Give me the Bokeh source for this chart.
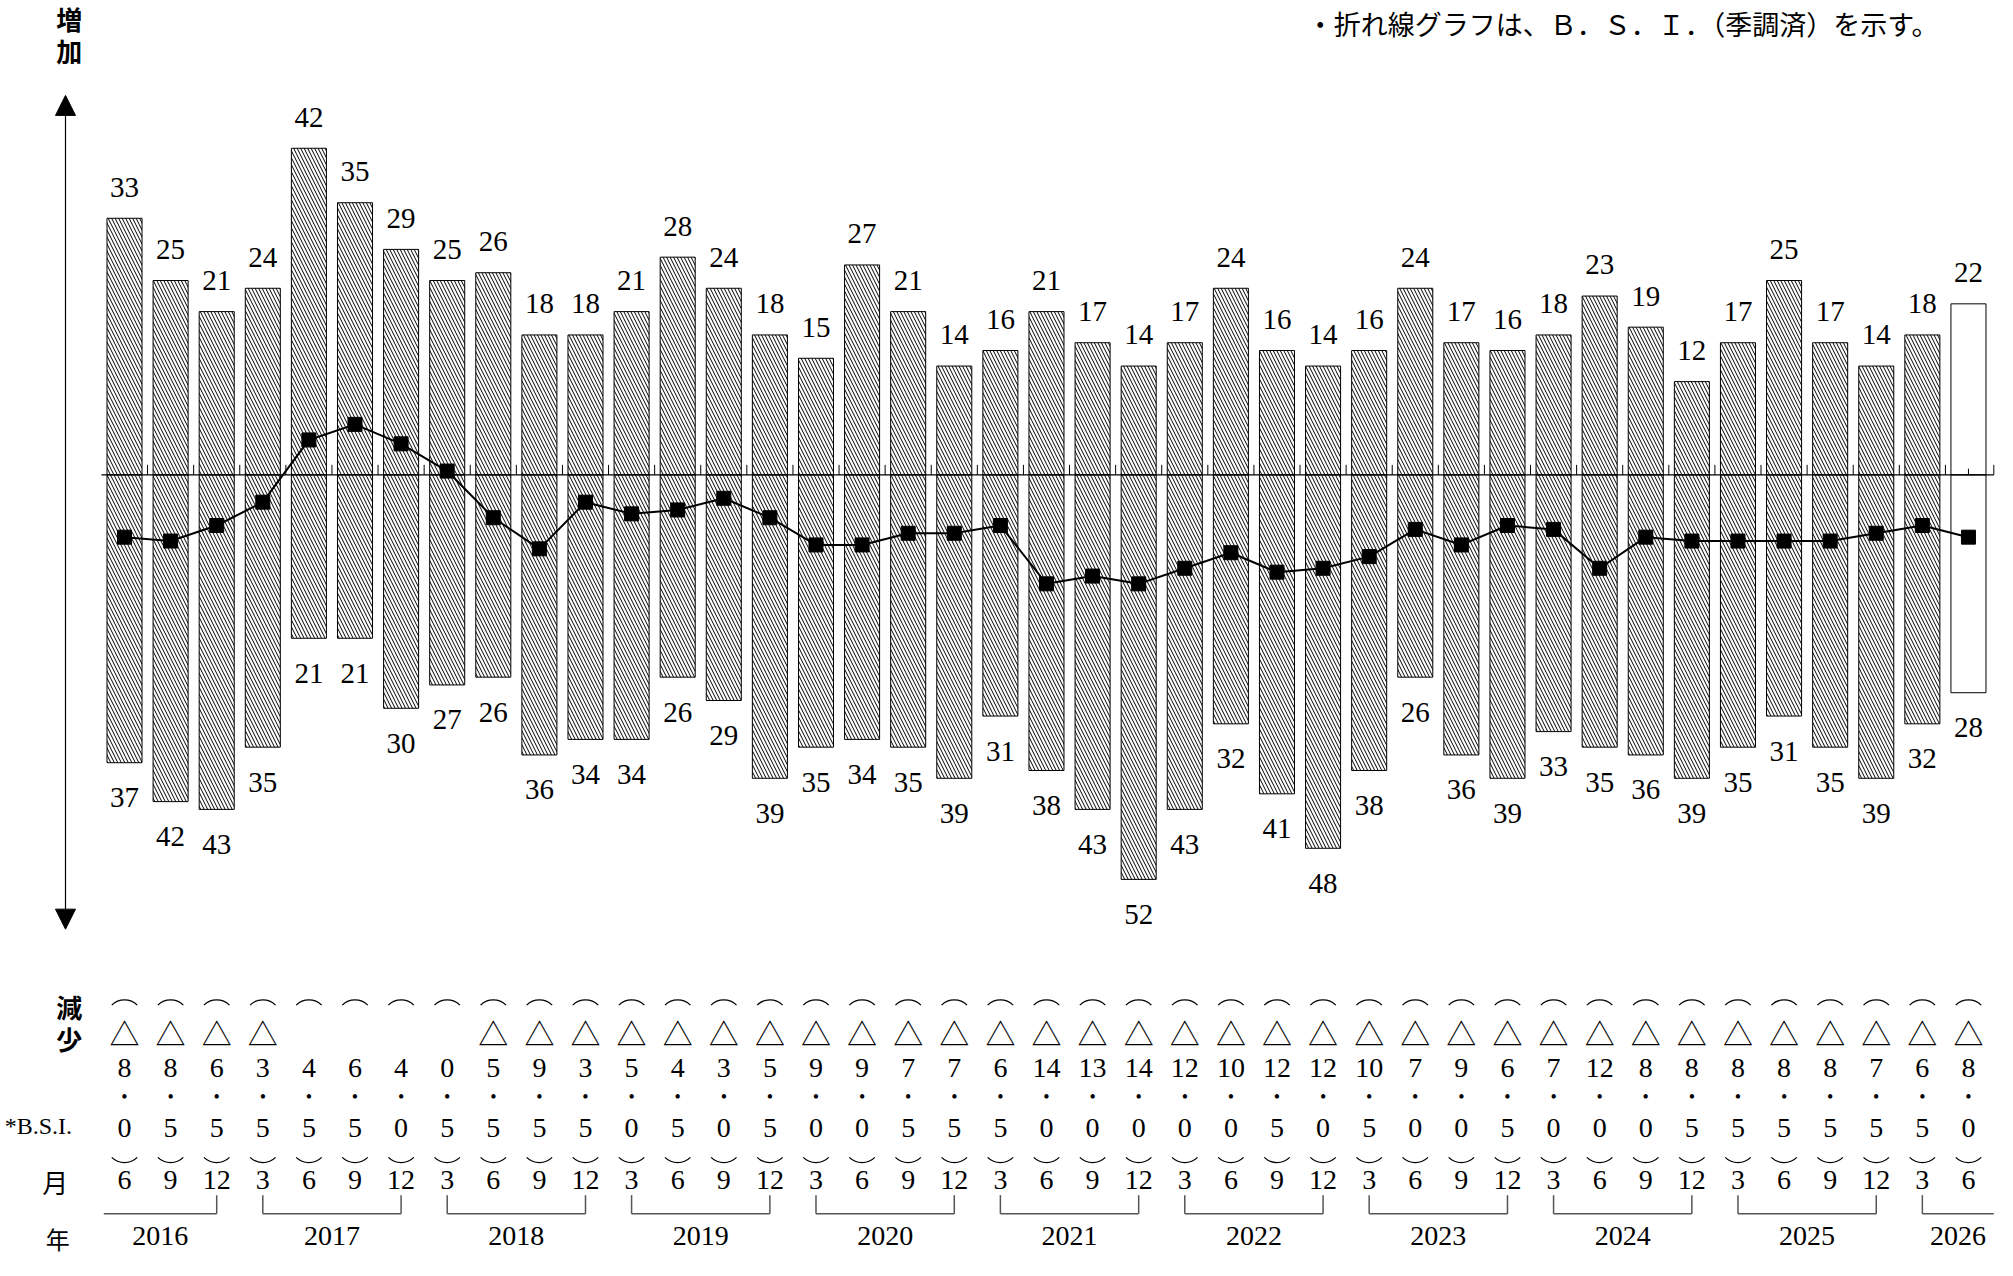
import math
from bokeh.plotting import figure
from bokeh.models import Arrow, NormalHead
from bokeh.core.properties import value
from bokeh.embed import file_html
from bokeh.resources import INLINE

months = [6, 9, 12] + [3, 6, 9, 12] * 9 + [3, 6]
years = list(range(2016, 2027))
up = [33, 25, 21, 24, 42, 35, 29, 25, 26, 18, 18, 21, 28, 24, 18, 15, 27, 21, 14, 16, 21,
      17, 14, 17, 24, 16, 14, 16, 24, 17, 16, 18, 23, 19, 12, 17, 25, 17, 14, 18, 22]
down = [37, 42, 43, 35, 21, 21, 30, 27, 26, 36, 34, 34, 26, 29, 39, 35, 34, 35, 39, 31, 38,
        43, 52, 43, 32, 41, 48, 38, 26, 36, 39, 33, 35, 36, 39, 35, 31, 35, 39, 32, 28]
bsi = [-8.0, -8.5, -6.5, -3.5, 4.5, 6.5, 4.0, 0.5, -5.5, -9.5, -3.5, -5.0, -4.5, -3.0,
       -5.5, -9.0, -9.0, -7.5, -7.5, -6.5, -14.0, -13.0, -14.0, -12.0, -10.0, -12.5,
       -12.0, -10.5, -7.0, -9.0, -6.5, -7.0, -12.0, -8.0, -8.5, -8.5, -8.5, -8.5, -7.5,
       -6.5, -8.0]

n = len(up)
xs = list(range(n))
SERIF = value("Liberation Serif")
CJK = value("Noto Sans CJK JP")

p = figure(width=1997, height=1260, x_range=(-2.69, 40.63), y_range=(-101.0, 61.0),
           output_backend="svg", toolbar_location=None, min_border=0)
p.axis.visible = False
p.grid.visible = False
p.outline_line_color = None

# bars (last one is forecast: white)
hx, fx = xs[:-1], xs[-1:]
for top_vals, sign in ((up, 1), (down, -1)):
    p.vbar(x=hx, bottom=0, top=[sign * v for v in top_vals[:-1]], width=0.76,
           fill_color="white", line_color="black", line_width=1,
           hatch_pattern="\\", hatch_color="black", hatch_scale=7, hatch_weight=1)
    p.vbar(x=fx, bottom=0, top=[sign * v for v in top_vals[-1:]], width=0.76,
           fill_color="white", line_color="black", line_width=1)

# zero line with ticks
p.line([-0.5, n - 0.45], [0, 0], line_color="black", line_width=1.2)
p.segment(x0=[i + 0.5 for i in xs[:-1]] + [n - 0.45], y0=0,
          x1=[i + 0.5 for i in xs[:-1]] + [n - 0.45], y1=1.3, line_color="black")
p.segment(x0=[n - 1], y0=0, x1=[n - 1], y1=0.8, line_color="black")

# value labels
p.text(x=xs, y=[v + 4.0 for v in up], text=[str(v) for v in up], text_font=SERIF,
       text_font_size="29px", text_align="center", text_baseline="middle")
p.text(x=xs, y=[-v - 4.5 for v in down], text=[str(v) for v in down], text_font=SERIF,
       text_font_size="29px", text_align="center", text_baseline="middle")

# BSI line
p.line(xs, bsi, line_color="black", line_width=2)
p.scatter(xs, bsi, marker="square", size=14, color="black")

# vertical arrow
p.add_layout(Arrow(end=NormalHead(size=20, fill_color="black", line_color="black"),
                   start=NormalHead(size=20, fill_color="black", line_color="black"),
                   x_start=-1.28, y_start=-58.4, x_end=-1.28, y_end=48.8,
                   line_color="black", line_width=1.2))

def label(x, y, t, font=CJK, size="26px", align="center", style="bold"):
    p.text(x=[x], y=[y], text=[t], text_font=font, text_font_size=size,
           text_align=align, text_baseline="middle", text_font_style=style)

label(-1.2, 58.7, "増")
label(-1.2, 54.6, "加")
label(-1.2, -68.3, "減")
label(-1.2, -72.4, "少")
label(-1.5, -90.8, "月", style="normal")
label(-1.45, -98.2, "年", size="24px", style="normal")
label(-2.6, -83.7, "*B.S.I.", font=SERIF, size="24px", align="left", style="normal")
label(32.5, 58.0, "・折れ線グラフは、Ｂ．Ｓ．Ｉ．（季調済）を示す。", size="27px",
      align="center", style="normal")

# table below
ints = [str(int(abs(v))) for v in bsi]
decs = [str(int(round(abs(v) * 10)) % 10) for v in bsi]
tri_x = [i for i in xs if bsi[i] < 0]

def row(xv, y, t, font=SERIF, size="28px"):
    p.text(x=xv, y=y, text=t, text_font=font, text_font_size=size,
           text_align="center", text_baseline="middle")

p.arc(x=xs, y=-69.8, radius=18, radius_units="screen", start_angle=math.pi / 4,
      end_angle=3 * math.pi / 4, line_color="black", line_width=1.3)
p.arc(x=xs, y=-86.1, radius=18, radius_units="screen", start_angle=5 * math.pi / 4,
      end_angle=7 * math.pi / 4, line_color="black", line_width=1.3)
row(tri_x, -71.6, ["△"] * len(tri_x), font=CJK, size="30px")
row(xs, -76.2, ints)
row(xs, -80.0, ["•"] * n, size="18px")
row(xs, -83.9, decs)
row(xs, -90.6, [str(m) for m in months])

# year brackets
yb, yt = -95.0, -92.6
for k, yr in enumerate(years):
    i3 = 4 * k - 1  # index of March
    i12 = i3 + 3
    left = max(i3, -0.45)
    right = min(i12, n - 0.45)
    p.line([left, right], [yb, yb], line_color="#555555", line_width=1.5)
    if i3 >= 0:
        p.line([i3, i3], [yb, yt], line_color="#555555", line_width=1.5)
    if i12 <= n - 1:
        p.line([i12, i12], [yb, yt], line_color="#555555", line_width=1.5)
    label((left + right) / 2, -97.9, str(yr), font=SERIF, size="28px", style="normal")

open("out.html", "w").write(file_html(p, INLINE))
